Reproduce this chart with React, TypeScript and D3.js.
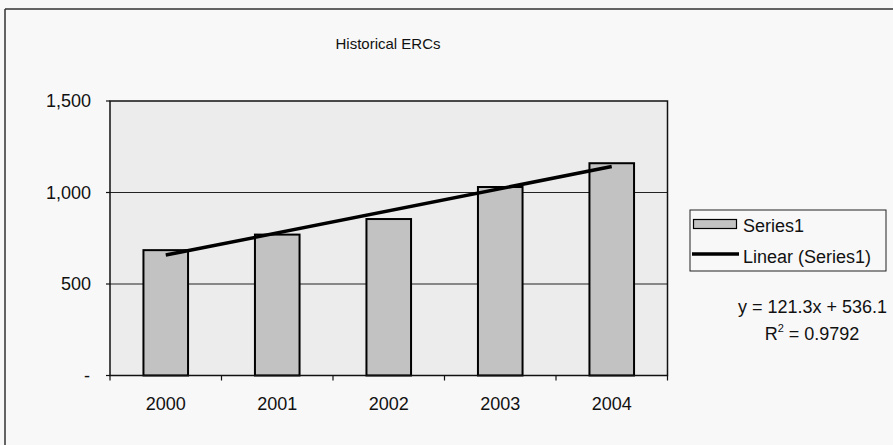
import React from "react";
import * as d3 from "d3";

const categories = ["2000", "2001", "2002", "2003", "2004"];
const values = [685, 770, 855, 1030, 1160];
const yTicks = [0, 500, 1000, 1500];
const title = "Historical ERCs";
const seriesName = "Series1";
const trendName = "Linear (Series1)";
const equationText = "y = 121.3x + 536.1";
const r2Value = "0.9792";

const W = 893;
const H = 445;
const FONT = "'Liberation Sans', Arial, sans-serif";

export default function App() {
  const plot = { left: 110, right: 667.5, top: 101, bottom: 375.5 };
  const x = d3
    .scaleBand<string>()
    .domain(categories)
    .range([plot.left, plot.right])
    .paddingInner(0)
    .paddingOuter(0);
  const y = d3.scaleLinear().domain([0, 1500]).range([plot.bottom, plot.top]);
  const barW = x.bandwidth() / 2.5;

  // linear regression on index 1..n
  const xs = values.map((_, i) => i + 1);
  const mx = d3.mean(xs) as number;
  const my = d3.mean(values) as number;
  const slope =
    d3.sum(xs.map((xi, i) => (xi - mx) * (values[i] - my))) /
    d3.sum(xs.map((xi) => (xi - mx) ** 2));
  const intercept = my - slope * mx;
  const trendPts: [number, number][] = categories.map((c, i) => [
    (x(c) as number) + x.bandwidth() / 2,
    y(intercept + slope * (i + 1)),
  ]);
  const line = d3.line();
  const fmt = d3.format(",");

  return (
    <svg
      width={W}
      height={H}
      style={{ position: "absolute", left: 0, top: 0, background: "#f8f8f8" }}
      fontFamily={FONT}
    >
      <rect x={0} y={0} width={W} height={H} fill="#f8f8f8" />
      {/* outer frame */}
      <line x1={5} y1={9} x2={W} y2={9} stroke="#333" strokeWidth={1.5} />
      <line x1={5} y1={9} x2={5} y2={H} stroke="#333" strokeWidth={1.5} />

      <text x={388} y={49} textAnchor="middle" fontSize={15} fill="#111">
        {title}
      </text>

      {/* plot area */}
      <rect
        x={plot.left}
        y={plot.top}
        width={plot.right - plot.left}
        height={plot.bottom - plot.top}
        fill="#ececec"
      />
      {yTicks.slice(1, -1).map((t) => (
        <line
          key={"g" + t}
          x1={plot.left}
          x2={plot.right}
          y1={y(t)}
          y2={y(t)}
          stroke="#222"
          strokeWidth={1.2}
        />
      ))}

      {/* bars */}
      {categories.map((c, i) => (
        <rect
          key={c}
          x={(x(c) as number) + (x.bandwidth() - barW) / 2}
          y={y(values[i])}
          width={barW}
          height={plot.bottom - y(values[i])}
          fill="#c2c2c2"
          stroke="#000"
          strokeWidth={2}
        />
      ))}

      {/* plot border */}
      <rect
        x={plot.left}
        y={plot.top}
        width={plot.right - plot.left}
        height={plot.bottom - plot.top}
        fill="none"
        stroke="#111"
        strokeWidth={1.5}
      />

      {/* trendline */}
      <path
        d={line([trendPts[0], trendPts[trendPts.length - 1]]) as string}
        stroke="#000"
        strokeWidth={3.5}
        fill="none"
      />

      {/* y axis ticks & labels */}
      {yTicks.map((t) => (
        <g key={"y" + t}>
          <line
            x1={plot.left - 4}
            x2={plot.left}
            y1={y(t)}
            y2={y(t)}
            stroke="#111"
            strokeWidth={1.2}
          />
          <text
            x={t === 0 ? 90 : 91}
            y={y(t)}
            dy="0.35em"
            textAnchor="end"
            fontSize={18}
            fill="#111"
          >
            {t === 0 ? "-" : fmt(t)}
          </text>
        </g>
      ))}

      {/* x axis ticks & labels */}
      {categories.concat(["end"]).map((c, i) => {
        const xx = plot.left + i * x.bandwidth();
        return (
          <line
            key={"xt" + i}
            x1={xx}
            x2={xx}
            y1={plot.bottom}
            y2={plot.bottom + 5}
            stroke="#111"
            strokeWidth={1.2}
          />
        );
      })}
      {categories.map((c) => (
        <text
          key={"xl" + c}
          x={(x(c) as number) + x.bandwidth() / 2}
          y={410}
          textAnchor="middle"
          fontSize={18}
          fill="#111"
        >
          {c}
        </text>
      ))}

      {/* legend */}
      <rect x={690} y={210} width={196} height={61} fill="#f8f8f8" stroke="#222" strokeWidth={1} />
      <rect x={693.5} y={219.5} width={43} height={9} fill="#c2c2c2" stroke="#000" strokeWidth={1.2} />
      <text x={743} y={232} fontSize={18} fill="#111">
        {seriesName}
      </text>
      <line x1={692} x2={739} y1={254} y2={254} stroke="#000" strokeWidth={3.5} />
      <text x={743} y={263} fontSize={18} fill="#111">
        {trendName}
      </text>

      {/* equation */}
      <text x={887} y={313} textAnchor="end" fontSize={18} fill="#111">
        {equationText}
      </text>
      <text x={812} y={339.5} textAnchor="middle" fontSize={18} fill="#111">
        R<tspan fontSize={11} dy={-8}>2</tspan>
        <tspan dy={8}>{" = " + r2Value}</tspan>
      </text>
    </svg>
  );
}
